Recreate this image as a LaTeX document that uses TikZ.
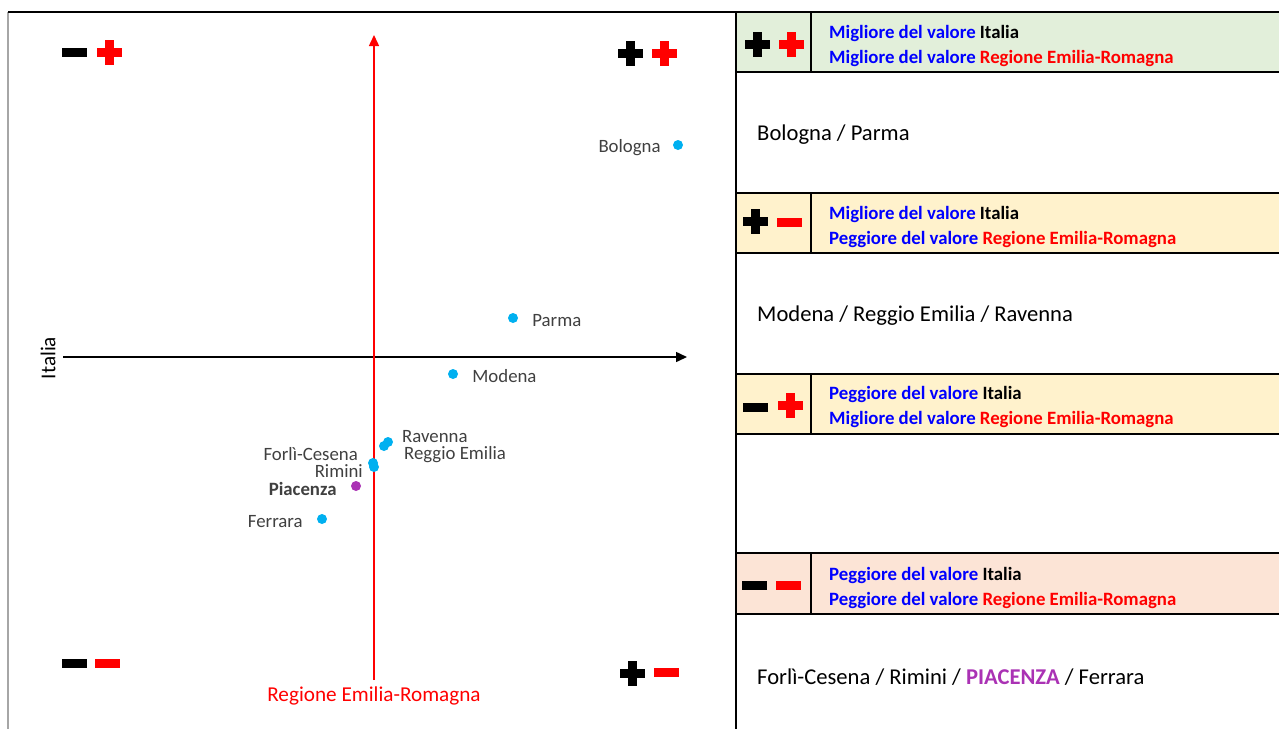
\documentclass[tikz,border=0pt]{standalone}
\usepackage{fontspec}
\setmainfont{Carlito}
\usetikzlibrary{positioning, arrows.meta}

\definecolor{dotblue}{HTML}{00B0F0}
\definecolor{piac}{RGB}{170,50,180}
\definecolor{lblgray}{HTML}{404040}
\definecolor{hdgreen}{HTML}{E2EFDA}
\definecolor{hdyellow}{HTML}{FFF2CC}
\definecolor{hdpeach}{HTML}{FCE4D6}
\definecolor{txtblue}{HTML}{0000FF}

\newcommand{\migl}{\textcolor{txtblue}{Migliore del valore}}
\newcommand{\pegg}{\textcolor{txtblue}{Peggiore del valore}}
\newcommand{\rer}{\textcolor{red}{Regione Emilia-Romagna}}

\begin{document}
\begin{tikzpicture}[x=1pt, y=-1pt]
\tikzset{
  dot/.style={circle, fill=dotblue, inner sep=0pt, minimum size=10pt},
  lbl/.style={inner sep=0pt, text=lblgray, yshift=-2.5pt, font=\fontsize{18.8}{21}\selectfont},
  axlabel/.style={inner sep=0pt, font=\fontsize{21.2}{24}\selectfont},
  hdtext/.style={anchor=west, inner sep=0pt, align=left, font=\fontsize{18.8}{25}\selectfont\bfseries},
  rowtext/.style={anchor=west, inner sep=0pt, font=\fontsize{22.6}{25}\selectfont},
  tline/.style={line width=2pt},
  plussign/.pic={\fill (-12.5,-4.5) rectangle (12.5,4.5); \fill (-4.5,-12.5) rectangle (4.5,12.5);},
  minussign/.pic={\fill (-12.5,-4.5) rectangle (12.5,4.5);}
}
\useasboundingbox (0,0) rectangle (1279,729);

% header fills
\fill[hdgreen] (736,12) rectangle (1279,72);
\fill[hdyellow] (736,193) rectangle (1279,253);
\fill[hdyellow] (736,374) rectangle (1279,434);
\fill[hdpeach] (736,553) rectangle (1279,614);

% frame and table
\draw[gray!70, line width=1.5pt] (8,12) -- (8,729);
\draw[tline] (8,12) -- (1279,12);
\draw[tline] (736,12) -- (736,729);
\foreach \y in {72,193,253,374,434,553,614}
  \draw[tline] (736,\y) -- (1279,\y);
\foreach \ya/\yb in {12/72,193/253,374/434,553/614}
  \draw[tline] (811,\ya) -- (811,\yb);

% axes
\coordinate (xstart) at (63,357);
\coordinate (xend) at (687,357);
\coordinate (ystart) at (374,680);
\coordinate (yend) at (374,35);
\draw[line width=1.5pt, -{Triangle[length=11pt,width=10pt]}] (xstart) -- (xend);
\draw[red, line width=1.5pt, -{Triangle[length=11pt,width=10pt]}] (ystart) -- (yend);
\node[axlabel, rotate=90] (italia) at (48,358) {Italia};
\node[axlabel, text=red] (regione) at (374,696) {Regione Emilia-Romagna};

% quadrant marks
\pic[black] at (74,52) {minussign};
\pic[red] at (109,52) {plussign};
\pic[black] at (630,53.5) {plussign};
\pic[red] at (664,53.5) {plussign};
\pic[black] at (74,663) {minussign};
\pic[red] at (107,663) {minussign};
\pic[black] at (632,673) {plussign};
\pic[red] at (666,672) {minussign};

% provinces
\node[dot] (bologna) at (678,145) {};
\node[dot] (parma) at (513,318) {};
\node[dot] (modena) at (453,374) {};
\node[dot] (reggio) at (384,446) {};
\node[dot] (ravenna) at (388,442) {};
\node[dot] (forli) at (373,463) {};
\node[dot] (rimini) at (374,467) {};
\node[dot, fill=piac] (piacenza) at (356,486) {};
\node[dot] (ferrara) at (322,519) {};

\node[lbl, left=12pt of bologna] (bologna-l) {Bologna};
\node[lbl, right=14pt of parma] (parma-l) {Parma};
\node[lbl, right=14pt of modena] (modena-l) {Modena};
\node[lbl, anchor=west, align=left, font=\fontsize{18.8}{17}\selectfont] (ravenna-l) at (402,444) {Ravenna\\\hspace*{2pt}Reggio Emilia};
\node[lbl, anchor=east, align=right, font=\fontsize{18.8}{17}\selectfont] (forli-l) at (363,459.5) {Forlì-Cesena\hspace*{5pt}\\Rimini};
\node[lbl, left=14pt of piacenza, font=\fontsize{18.8}{21}\selectfont\bfseries] (piacenza-l) {Piacenza};
\node[lbl, left=14pt of ferrara] (ferrara-l) {Ferrara};

% table headers
\pic[black] at (757.5,44.5) {plussign};
\pic[red] at (791.5,44.5) {plussign};
\node[hdtext] (hd1) at (829,45.5) {\migl{} Italia\\\migl{} \rer};
\pic[black] at (755.5,221) {plussign};
\pic[red] at (789.5,222) {minussign};
\node[hdtext] (hd2) at (829,226.5) {\migl{} Italia\\\pegg{} \rer};
\pic[black] at (755,407) {minussign};
\pic[red] at (790.5,405) {plussign};
\node[hdtext] (hd3) at (829,406.5) {\pegg{} Italia\\\migl{} \rer};
\pic[black] at (754,585.5) {minussign};
\pic[red] at (788,585.5) {minussign};
\node[hdtext] (hd4) at (829,587.5) {\pegg{} Italia\\\pegg{} \rer};

% table rows
\node[rowtext] (row1) at (757,135) {Bologna / Parma};
\node[rowtext] (row2) at (757,316) {Modena / Reggio Emilia / Ravenna};
\node[rowtext] (row4) at (757,677) {Forlì-Cesena / Rimini / \textcolor{piac}{\bfseries PIACENZA} / Ferrara};
\end{tikzpicture}
\end{document}
